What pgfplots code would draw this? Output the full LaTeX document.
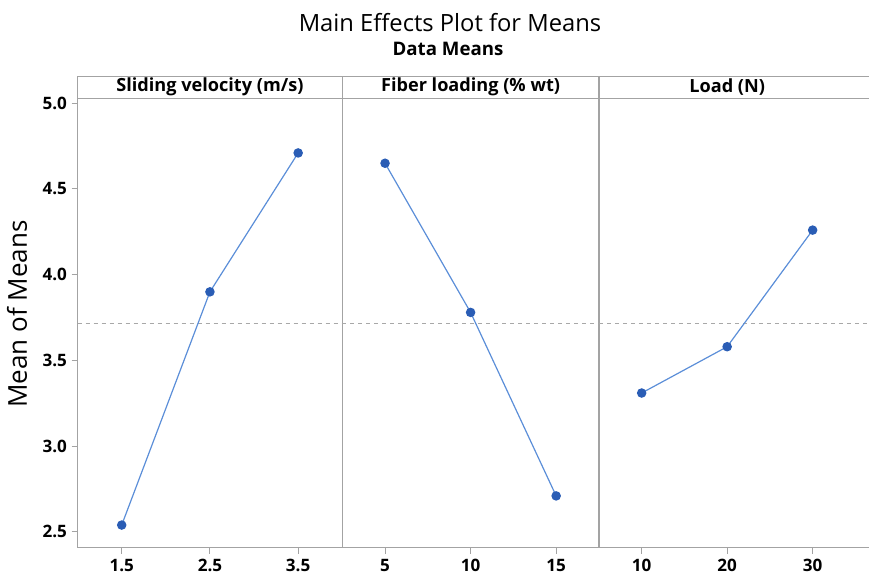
\documentclass[border=0pt]{standalone}
\usepackage{fontspec}
\setmainfont{Open Sans}
\usepackage{pgfplots}
\usepackage{pgfplotstable}
\pgfplotsset{compat=1.18}

\definecolor{linblue}{HTML}{5B8ED8}
\definecolor{dotblue}{HTML}{2A5DB5}
\definecolor{framegray}{HTML}{A3A3A3}
\definecolor{meangray}{HTML}{A8A8A8}

\pgfplotstableread{
x y
1.5 2.54
2.5 3.90
3.5 4.71
}\velocity
\pgfplotstableread{
x y
5  4.65
10 3.78
15 2.71
}\fiber
\pgfplotstableread{
x y
10 3.31
20 3.58
30 4.26
}\load

% grand mean of the data means
\def\grandmean{3.717}

\tikzset{header/.style={font=\fontsize{13.6}{16}\selectfont\bfseries}}
\pgfplotsset{
  panel/.style={
    scale only axis, anchor=south west,
    height=353.55pt,
    ymin=2.408, ymax=5.157,
    axis line style={framegray, line width=0.9pt},
    tick style={framegray, line width=0.8pt},
    tick align=outside, major tick length=4.5pt,
    tick pos=left,
    /pgf/number format/assume math mode=true,
    ticklabel style={font=\fontsize{12.8}{14}\selectfont\bfseries},
    xticklabel style={yshift=-0.5pt},
    clip=false,
  },
  means/.style={linblue, line width=0.9pt, mark=*, mark size=3.1pt,
    mark options={fill=dotblue, draw=dotblue}},
}

\begin{document}
\begin{tikzpicture}
% Sliding velocity
\begin{axis}[panel, at={(58.2pt,21.975pt)}, width=198.5pt,
    xmin=1, xmax=4, xtick={1.5,2.5,3.5},
    xticklabel style={/pgf/number format/.cd, fixed, fixed zerofill, precision=1},
    ytick={2.5,3,...,5},
    yticklabel style={/pgf/number format/.cd, fixed, fixed zerofill, precision=1}]
  \addplot[meangray, dashed, line width=0.7pt] coordinates {(1,\grandmean) (4,\grandmean)};
  \addplot[means] table[x=x, y=y] {\velocity};
  \draw[framegray, line width=0.9pt] (rel axis cs:0,0.9534) -- (rel axis cs:1,0.9534);
  \node[header] at (axis cs:2.5,5.093) {Sliding velocity (m/s)};
\end{axis}
% Fiber loading
\begin{axis}[panel, at={(256.7pt,21.975pt)}, width=192.5pt,
    xmin=2.5, xmax=17.5, xtick={5,10,15}, ytick=\empty]
  \addplot[meangray, dashed, line width=0.7pt] coordinates {(2.5,\grandmean) (17.5,\grandmean)};
  \addplot[means] table[x=x, y=y] {\fiber};
  \draw[framegray, line width=0.9pt] (rel axis cs:0,0.9534) -- (rel axis cs:1,0.9534);
  \node[header] at (axis cs:10,5.093) {Fiber loading (\% wt)};
\end{axis}
% Load
\begin{axis}[panel, at={(449.2pt,21.975pt)}, width=224.4pt,
    xmin=5, xmax=40, xtick={10,20,30}, ytick=\empty]
  \addplot[meangray, dashed, line width=0.7pt] coordinates {(5,\grandmean) (40,\grandmean)};
  \addplot[means] table[x=x, y=y] {\load};
  \draw[framegray, line width=0.9pt] (rel axis cs:0,0.9534) -- (rel axis cs:1,0.9534);
  \node[header] at (axis cs:20,5.093) {Load (N)};
\end{axis}
\node[font=\fontsize{17.8}{21}\selectfont] at (337.5pt,415.5pt) {Main Effects Plot for Means};
\node[font=\fontsize{14}{16}\selectfont\bfseries] at (336pt,396pt) {Data Means};
\node[rotate=90, font=\fontsize{19.5}{23}\selectfont] at (12.75pt,197.25pt) {Mean of Means};
\pgfresetboundingbox
\useasboundingbox (0pt,0pt) rectangle (651.75pt,432.75pt);
\end{tikzpicture}
\end{document}
